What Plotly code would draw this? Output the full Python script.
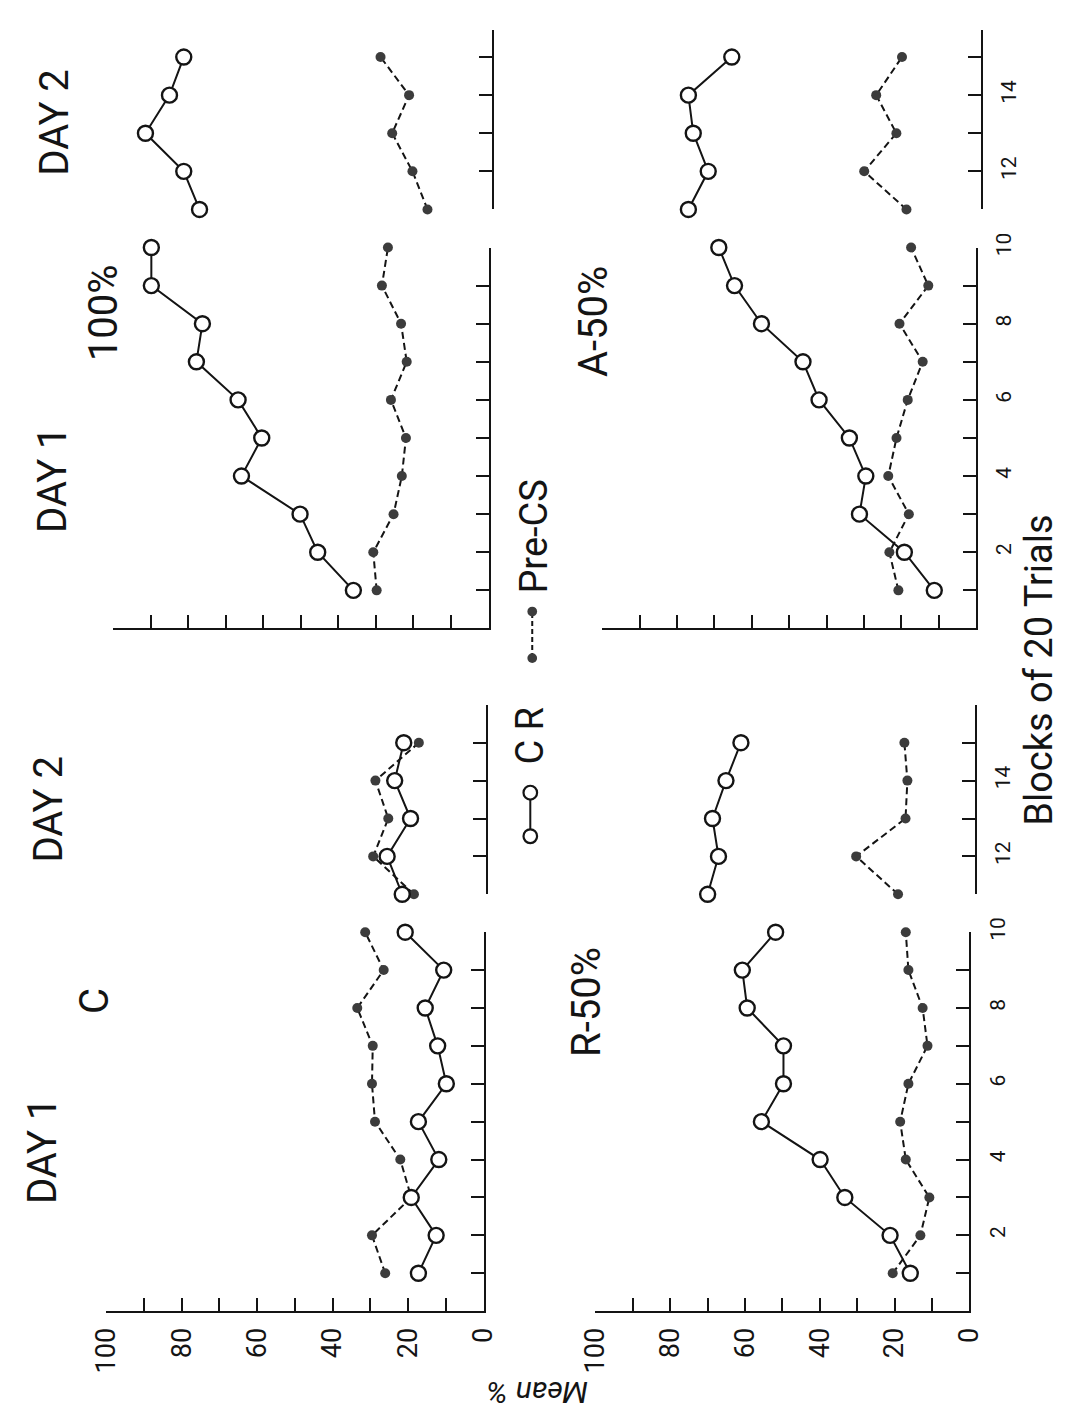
import plotly.graph_objects as go

W, H = 1080, 1418

# ---------------- data (Mean %) ----------------
blocks_day1 = list(range(1, 11))
blocks_day2 = list(range(11, 16))

c_cr_d1 = [17.3, 12.6, 19.2, 11.9, 17.3, 9.9, 12.2, 15.5, 10.6, 20.8]
c_pre_d1 = [26.1, 29.6, 19.2, 22.1, 28.8, 29.6, 29.4, 33.5, 26.5, 31.4]
c_cr_d2 = [22.1, 26.1, 19.9, 24.1, 21.7]
c_pre_d2 = [19.0, 29.8, 25.8, 29.2, 17.7]

p100_cr_d1 = [36.0, 45.5, 50.2, 65.8, 60.4, 66.7, 77.8, 76.2, 89.8, 89.8]
p100_pre_d1 = [29.8, 30.7, 25.3, 23.1, 22.0, 26.0, 21.8, 23.3, 28.4, 26.8]
p100_cr_d2 = [78.0, 82.2, 92.4, 86.0, 82.2]
p100_pre_d2 = [17.3, 21.3, 26.7, 22.2, 29.8]

r50_cr_d1 = [15.8, 21.2, 33.3, 39.9, 55.6, 49.7, 49.7, 59.4, 60.7, 51.8]
r50_pre_d1 = [20.5, 13.1, 10.7, 17.0, 18.5, 16.3, 11.2, 12.5, 16.3, 17.0]
r50_cr_d2 = [71.4, 68.5, 70.1, 66.5, 62.5]
r50_pre_d2 = [20.5, 31.7, 18.5, 18.0, 18.8]

a50_cr_d1 = [11.2, 19.2, 31.2, 29.5, 33.9, 42.0, 46.3, 57.4, 64.6, 68.8]
a50_pre_d1 = [20.8, 23.2, 18.0, 23.5, 21.3, 18.3, 14.3, 20.5, 12.8, 17.4]
a50_cr_d2 = [78.1, 72.8, 76.8, 78.1, 66.5]
a50_pre_d2 = [19.8, 31.1, 22.5, 27.9, 21.0]

value_ticks = list(range(0, 101, 10))
value_labels = ["0", "", "20", "", "40", "", "60", "", "80", "", "100"]
day1_ticks = blocks_day1
day1_labels = ["", "2", "", "4", "", "6", "", "8", "", "10"]
day2_ticks = blocks_day2
day2_labels = ["", "12", "", "14", ""]

# ---------------- layout geometry (pixels in the rotated page) ----------------
panels = [
    dict(key="C", x0=482, ppu=3.89, yb0=1310, ppb=38.3, d2x0=484, d2top=16.0,
         vlab=True, blab=False,
         data=(c_cr_d1, c_pre_d1, c_cr_d2, c_pre_d2)),
    dict(key="100", x0=487, ppu=3.87, yb0=620, ppb=38.5, d2x0=491, d2top=15.7,
         vlab=False, blab=False,
         data=(p100_cr_d1, p100_pre_d1, p100_cr_d2, p100_pre_d2)),
    dict(key="R", x0=982.5, ppu=3.855, yb0=1310, ppb=38.3, d2x0=988, d2top=16.0,
         vlab=True, blab=True,
         data=(r50_cr_d1, r50_pre_d1, r50_cr_d2, r50_pre_d2)),
    dict(key="A", x0=989.5, ppu=3.855, yb0=620, ppb=38.5, d2x0=994, d2top=15.7,
         vlab=False, blab=True,
         data=(a50_cr_d1, a50_pre_d1, a50_cr_d2, a50_pre_d2)),
]

INK = "#141414"
DOT = "#3c3c3c"
FONT = "Roboto"


def px(x):
    return x / W


def py(y):
    return 1 - y / H


fig = go.Figure()
layout = {}
n = 0
for p in panels:
    cr1, pre1, cr2, pre2 = p["data"]
    for day in (1, 2):
        n += 1
        xa = "xaxis" if n == 1 else f"xaxis{n}"
        ya = "yaxis" if n == 1 else f"yaxis{n}"
        xr = "x" if n == 1 else f"x{n}"
        yr = "y" if n == 1 else f"y{n}"
        if day == 1:
            xr0 = p["x0"]
            ytop = p["yb0"] - 10 * p["ppb"]
            ybot = p["yb0"]
            yrange = [0, 10]
            blocks = blocks_day1
            cr, pre = cr1, pre1
            tv, tt = day1_ticks, day1_labels
        else:
            xr0 = p["d2x0"]
            ytop = p["yb0"] - p["d2top"] * p["ppb"]
            ybot = p["yb0"] - 11 * p["ppb"]
            yrange = [11, p["d2top"]]
            blocks = blocks_day2
            cr, pre = cr2, pre2
            tv, tt = day2_ticks, day2_labels
        xdom = [px(xr0 - 100 * p["ppu"]), px(xr0)]
        ydom = [py(ybot), py(ytop)]
        layout[xa] = dict(
            domain=xdom, range=[100, 0], anchor=yr,
            visible=(day == 1), showline=True, linecolor=INK, linewidth=2,
            ticks="inside", ticklen=13, tickwidth=2, tickcolor=INK,
            tickvals=value_ticks, ticktext=value_labels,
            showticklabels=p["vlab"], tickangle=-90,
            tickfont=dict(family=FONT, size=27, color=INK),
            ticklabelstandoff=4,
            showgrid=False, zeroline=False, fixedrange=True,
        )
        layout[ya] = dict(
            domain=ydom, range=yrange, anchor=xr, side="right",
            showline=True, linecolor=INK, linewidth=2,
            ticks="inside", ticklen=13, tickwidth=2, tickcolor=INK,
            tickvals=tv, ticktext=tt,
            showticklabels=p["blab"], tickangle=-90,
            tickfont=dict(family=FONT, size=21, color=INK),
            ticklabelstandoff=8,
            showgrid=False, zeroline=False, fixedrange=True,
        )
        fig.add_trace(go.Scatter(
            x=pre, y=blocks, xaxis=xr, yaxis=yr, mode="lines+markers",
            line=dict(color=INK, width=2, dash="7px,4px"),
            marker=dict(symbol="circle", size=10, color=DOT),
            cliponaxis=False, showlegend=False, hoverinfo="skip",
        ))
        fig.add_trace(go.Scatter(
            x=cr, y=blocks, xaxis=xr, yaxis=yr, mode="lines+markers",
            line=dict(color=INK, width=2),
            marker=dict(symbol="circle", size=15, color="white",
                        line=dict(color=INK, width=2.4)),
            cliponaxis=False, showlegend=False, hoverinfo="skip",
        ))

# ---------------- text ----------------
texts = [
    ("DAY 2", 40, 108, 40), ("DAY 1", 37, 469, 40), ("100%", 91, 301, 40),
    ("DAY 2", 33, 803, 40), ("DAY 1", 28, 1148, 40), ("C", 81, 997, 40),
    ("A-50%", 595, 310, 40), ("R-50%", 588, 998, 40),
    ("Pre-CS", 534, 527, 38), ("C R", 530, 728, 38),
    ("Blocks of 20 Trials", 1054, 662, 38),
]
annotations = []
for t, x, y, s in texts:
    annotations.append(dict(
        text=t, x=px(x), y=py(y), xref="paper", yref="paper",
        xanchor="center", yanchor="middle", showarrow=False, textangle=-90,
        font=dict(family=FONT, size=s, color=INK),
    ))
annotations.append(dict(
    text="Mean %", x=px(538), y=py(1392), xref="paper", yref="paper",
    xanchor="center", yanchor="middle", showarrow=False, textangle=180,
    font=dict(family=FONT, size=30, color=INK, style="italic"),
))

# ---------------- legend keys (decorative) ----------------
shapes = []


def circ(cx, cy, r, fill, lw):
    return dict(type="circle", xref="paper", yref="paper",
                x0=px(cx - r), x1=px(cx + r), y0=py(cy + r), y1=py(cy - r),
                fillcolor=fill, line=dict(color=INK, width=lw), layer="above")


shapes.append(dict(type="line", xref="paper", yref="paper", x0=px(530), x1=px(530),
                   y0=py(823), y1=py(792), line=dict(color=INK, width=2)))
shapes.append(circ(530, 830, 7, "white", 2.2))
shapes.append(circ(530, 786, 7, "white", 2.2))
shapes.append(dict(type="line", xref="paper", yref="paper", x0=px(532), x1=px(532),
                   y0=py(650), y1=py(603), line=dict(color=INK, width=2, dash="5px,3px")))
shapes.append(circ(532, 650, 5, DOT, 0))
shapes.append(circ(532, 603, 5, DOT, 0))

fig.update_layout(
    width=W, height=H, autosize=False,
    margin=dict(l=0, r=0, t=0, b=0, pad=0),
    paper_bgcolor="white", plot_bgcolor="rgba(0,0,0,0)",
    showlegend=False, annotations=annotations, shapes=shapes,
    **layout,
)

fig.write_html(
    "out.html",
    config={"displayModeBar": False},
    post_script="document.body.style.margin='0';document.body.style.padding='0';"
                "document.body.style.overflow='hidden';",
)
